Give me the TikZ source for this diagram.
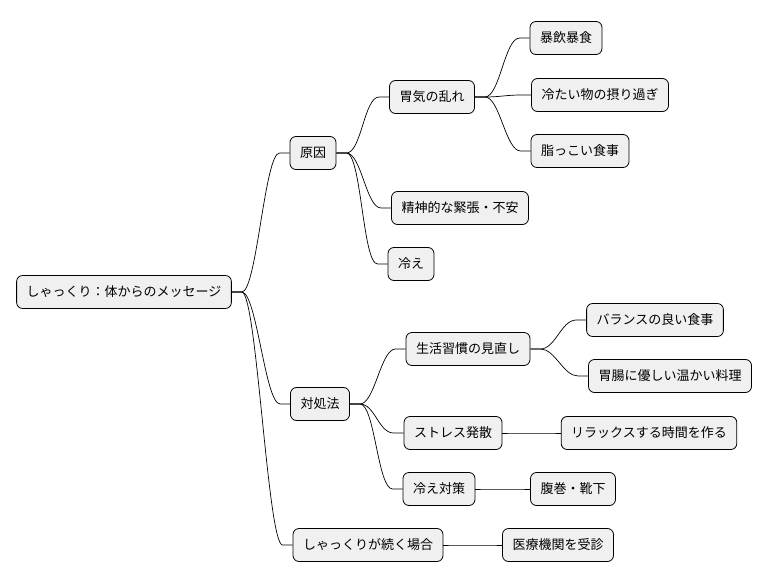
\documentclass[tikz,border=0pt]{standalone}
\usepackage{fontspec}
\setmainfont{Noto Sans CJK JP}
\begin{document}
\begin{tikzpicture}[x=1pt,y=-1pt,
  n/.style={draw=black,line width=0.8pt,fill=black!6,rounded corners=6pt,minimum height=33pt,inner xsep=10pt,font=\fontsize{13}{15}\selectfont,anchor=center},
  e/.style={line width=0.7pt}]
\useasboundingbox (0,0) rectangle (768,583);
\node[n] (r) at (124,292) {しゃっくり：体からのメッセージ};
\node[n] (a) at (313,153) {原因};
\node[n] (a1) at (432,97) {胃気の乱れ};
\node[n] (a11) at (566,38) {暴飲暴食};
\node[n] (a12) at (600,95) {冷たい物の摂り過ぎ};
\node[n] (a13) at (580,151) {脂っこい食事};
\node[n] (a2) at (460,208) {精神的な緊張・不安};
\node[n] (a3) at (411,264) {冷え};
\node[n] (b) at (320,404) {対処法};
\node[n] (b1) at (468,349) {生活習慣の見直し};
\node[n] (b11) at (655,320) {バランスの良い食事};
\node[n] (b12) at (670,376) {胃腸に優しい温かい料理};
\node[n] (b2) at (453,433) {ストレス発散};
\node[n] (b21) at (649,433) {リラックスする時間を作る};
\node[n] (b3) at (439,489) {冷え対策};
\node[n] (b31) at (573,489) {腹巻・靴下};
\node[n] (c) at (368,545) {しゃっくりが続く場合};
\node[n] (c1) at (558,545) {医療機関を受診};
\foreach \p/\c in {r/a,r/b,r/c,a/a1,a/a2,a/a3,a1/a11,a1/a12,a1/a13,b/b1,b/b2,b/b3,b1/b11,b1/b12,b2/b21,b3/b31,c/c1}
  \draw[e] (\p.east) -- ++(10,0) .. controls +(15,0) and +(-15,0) .. ([xshift=-10pt]\c.west) -- (\c.west);
\end{tikzpicture}
\end{document}
